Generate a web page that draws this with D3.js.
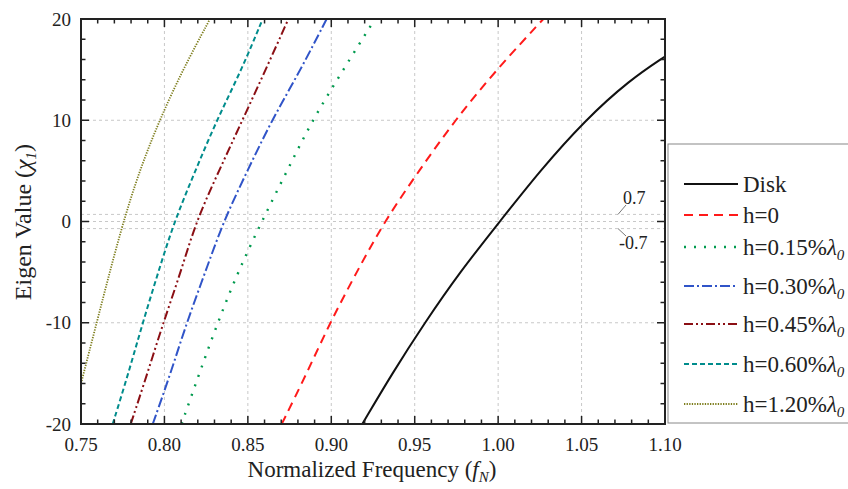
<!DOCTYPE html>
<html>
<head>
<meta charset="utf-8">
<script src="https://cdn.jsdelivr.net/npm/d3@7"></script>
<style>
body { margin: 0; background: #fff; }
</style>
</head>
<body>
<div id="chart"></div>
<script>
// values
const eigLevels = [-20, -15, -10, -5, 0, 5, 10, 15, 20];
const diskFreq   = [0.9186, 0.9365, 0.956, 0.977, 1.001, 1.025, 1.052, 1.079, 1.100];
const diskEig    = [-20, -15, -10, -5, 0, 5, 10, 14, 16.3];
const h0Freq     = [0.8703, 0.8853, 0.8992, 0.9152, 0.9318, 0.9525, 0.9741, 0.999, 1.0271];
const h015Freq   = [0.8103, 0.8209, 0.8319, 0.844, 0.8583, 0.8735, 0.8886, 0.9072, 0.9262];
const h030Freq   = [0.793, 0.8037, 0.8133, 0.8245, 0.8353, 0.8497, 0.8643, 0.8817, 0.8972];
const h045Freq   = [0.7798, 0.7898, 0.7993, 0.8098, 0.8189, 0.8327, 0.8467, 0.8607, 0.8743];
const h060Freq   = [0.769, 0.7784, 0.787, 0.7963, 0.8059, 0.8185, 0.8313, 0.8463, 0.8589];
const h120Freq   = [0.75, 0.7594, 0.7672, 0.7754, 0.785, 0.797, 0.811, 0.8273];
const h120Eig    = [-16, -10, -5, 0, 5, 10, 15, 20];

const xTicks = [0.75, 0.80, 0.85, 0.90, 0.95, 1.00, 1.05, 1.10];
const yTicks = [-20, -10, 0, 10, 20];
const bandLevels = [0.7, -0.7];
const legendLabels = ["Disk", "h=0", "h=0.15%", "h=0.30%", "h=0.45%", "h=0.60%", "h=1.20%"];

const series = [
  { name: legendLabels[0], f: diskFreq, v: diskEig,  color: "#111",    dash: null,                   w: 2 },
  { name: legendLabels[1], f: h0Freq,   v: eigLevels, color: "#ff1a1a", dash: "9,6",                 w: 2 },
  { name: legendLabels[2], f: h015Freq, v: eigLevels, color: "#009a4e", dash: "2,8",                 w: 2.4 },
  { name: legendLabels[3], f: h030Freq, v: eigLevels, color: "#3054c8", dash: "10,3,2,3",            w: 2 },
  { name: legendLabels[4], f: h045Freq, v: eigLevels, color: "#8b0f14", dash: "9,3,2,3,2,3",         w: 2 },
  { name: legendLabels[5], f: h060Freq, v: eigLevels, color: "#008c8c", dash: "5,3",                 w: 2 },
  { name: legendLabels[6], f: h120Freq, v: h120Eig,   color: "#7d7d1c", dash: "1.3,1.3",             w: 1.8 }
];

const width = 848, height = 489;
const plotL = 81, plotR = 665, plotT = 19, plotB = 424;

const svg = d3.select("#chart").append("svg")
  .attr("width", width).attr("height", height)
  .attr("font-family", "'Liberation Serif', 'DejaVu Serif', serif");

const x = d3.scaleLinear().domain([0.75, 1.10]).range([plotL, plotR]);
const y = d3.scaleLinear().domain([-20, 20]).range([plotB, plotT]);

// grid
const grid = svg.append("g").attr("stroke", "#c8c8c8").attr("stroke-width", 1).attr("stroke-dasharray", "3,3");
xTicks.slice(1, -1).forEach(t => {
  grid.append("line").attr("x1", x(t)).attr("x2", x(t)).attr("y1", plotT).attr("y2", plotB);
});
yTicks.slice(1, -1).concat(bandLevels).forEach(t => {
  grid.append("line").attr("x1", plotL).attr("x2", plotR).attr("y1", y(t)).attr("y2", y(t));
});

// curves
svg.append("clipPath").attr("id", "plot")
  .append("rect").attr("x", plotL).attr("y", plotT).attr("width", plotR - plotL).attr("height", plotB - plotT);

const line = d3.line().x(d => x(d[0])).y(d => y(d[1])).curve(d3.curveBasis);

series.forEach(s => {
  svg.append("path")
    .datum(s.f.map((f, i) => [f, s.v[i]]))
    .attr("clip-path", "url(#plot)")
    .attr("d", line)
    .attr("fill", "none")
    .attr("stroke", s.color)
    .attr("stroke-width", s.w)
    .attr("stroke-dasharray", s.dash);
});

// axes (box with inward ticks)
const minorX = d3.range(0.75, 1.1001, 0.01);
const minorY = d3.range(-20, 20.001, 2);
const axes = svg.append("g").attr("stroke", "#222").attr("stroke-width", 1.5);
minorX.forEach(t => {
  const major = xTicks.some(m => Math.abs(m - t) < 1e-6);
  const len = major ? 8 : 4.5;
  axes.append("line").attr("x1", x(t)).attr("x2", x(t)).attr("y1", plotB).attr("y2", plotB - len);
  axes.append("line").attr("x1", x(t)).attr("x2", x(t)).attr("y1", plotT).attr("y2", plotT + len);
});
minorY.forEach(t => {
  const major = t % 10 === 0;
  const len = major ? 8 : 4.5;
  axes.append("line").attr("x1", plotL).attr("x2", plotL + len).attr("y1", y(t)).attr("y2", y(t));
  axes.append("line").attr("x1", plotR).attr("x2", plotR - len).attr("y1", y(t)).attr("y2", y(t));
});
svg.append("rect")
  .attr("x", plotL).attr("y", plotT).attr("width", plotR - plotL).attr("height", plotB - plotT)
  .attr("fill", "none").attr("stroke", "#222").attr("stroke-width", 2);

// tick labels
svg.append("g").attr("fill", "#222").selectAll("text").data(xTicks).join("text")
  .attr("x", d => x(d)).attr("y", 451)
  .attr("text-anchor", "middle").attr("font-size", 19)
  .text(d => d3.format(".2f")(d));
svg.append("g").attr("fill", "#222").selectAll("text").data(yTicks).join("text")
  .attr("x", 71).attr("y", d => y(d) + 6.5)
  .attr("text-anchor", "end").attr("font-size", 19)
  .text(d => d);

// axis titles
const xt = svg.append("text").attr("x", 372).attr("y", 477).attr("fill", "#222")
  .attr("text-anchor", "middle").attr("font-size", 23);
xt.append("tspan").text("Normalized Frequency (");
xt.append("tspan").attr("font-style", "italic").text("f");
xt.append("tspan").attr("font-style", "italic").attr("font-size", 15).attr("dy", 5).text("N");
xt.append("tspan").attr("dy", -5).text(")");

const yt = svg.append("text").attr("transform", "translate(31,222) rotate(-90)").attr("fill", "#222")
  .attr("text-anchor", "middle").attr("font-size", 24);
yt.append("tspan").text("Eigen Value (");
yt.append("tspan").attr("font-style", "italic").text("χ");
yt.append("tspan").attr("font-style", "italic").attr("font-size", 15).attr("dy", 5).text("1");
yt.append("tspan").attr("dy", -5).text(")");

// ±0.7 annotations
const ann = svg.append("g").attr("fill", "#222");
ann.append("line").attr("x1", 618).attr("y1", y(0.7)).attr("x2", 626).attr("y2", 205)
  .attr("stroke", "#555").attr("stroke-width", 0.8);
ann.append("text").attr("x", 623).attr("y", 204).attr("font-size", 18).text("0.7");
ann.append("line").attr("x1", 618).attr("y1", y(-0.7)).attr("x2", 626).attr("y2", 236)
  .attr("stroke", "#555").attr("stroke-width", 0.8);
ann.append("text").attr("x", 619).attr("y", 249).attr("font-size", 18).text("-0.7");

// legend
const legendY = [184, 215, 247, 286, 324, 364, 404];
svg.append("rect").attr("x", 668).attr("y", 144).attr("width", 200).attr("height", 279)
  .attr("fill", "#fff").attr("stroke", "#888").attr("stroke-width", 1);
series.forEach((s, i) => {
  const ly = legendY[i];
  svg.append("line").attr("x1", 684).attr("x2", 738).attr("y1", ly).attr("y2", ly)
    .attr("stroke", s.color).attr("stroke-width", s.w).attr("stroke-dasharray", s.dash);
  const t = svg.append("text").attr("x", 743).attr("y", ly + 8).attr("font-size", 23).attr("fill", "#222");
  t.append("tspan").text(s.name);
  if (i >= 2) {
    t.append("tspan").attr("font-style", "italic").text("λ");
    t.append("tspan").attr("font-style", "italic").attr("font-size", 15).attr("dy", 5).text("0");
  }
});
</script>
</body>
</html>
